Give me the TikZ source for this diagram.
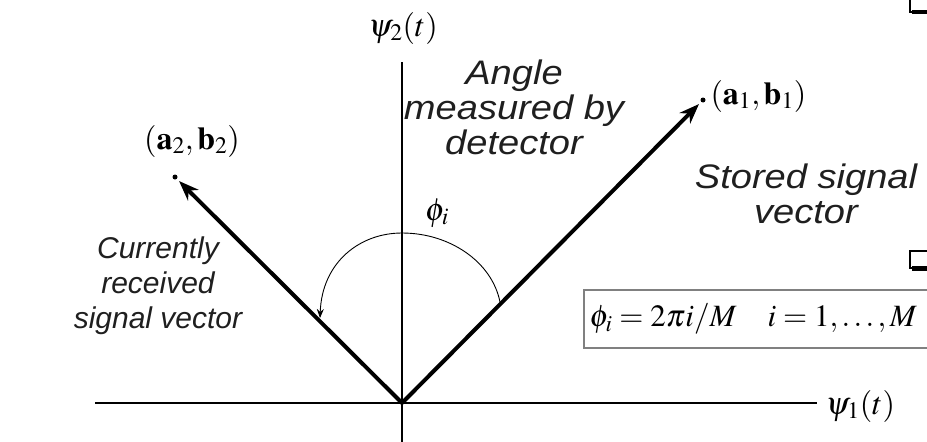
\documentclass[tikz,border=0pt]{standalone}
\usepackage{mathptmx}
\usepackage[no-math]{fontspec}
\newfontfamily\labelfont{Liberation Sans}
\newfontfamily\widefont{Liberation Sans}[FakeStretch=1.12]
\usetikzlibrary{arrows.meta}

\tikzset{
	note/.style={font=\widefont\itshape\fontsize{34}{35}\selectfont, align=center, text=black!88},
	leftnote/.style={font=\labelfont\itshape\fontsize{30}{35}\selectfont, align=center, text=black!88},
	mlabel/.style={font=\fontsize{32}{34}\selectfont},
	sig/.style={line width=4pt, -{Stealth[length=20pt,width=15pt]}, shorten >=3pt},
	axis/.style={line width=1.3pt},
	dot/.style={circle, fill, inner sep=0pt, minimum size=5pt},
}

\begin{document}
\begin{tikzpicture}[x=1pt, y=-1pt]
	\useasboundingbox (0,0) rectangle (927,442);
	\coordinate (o) at (402,403);
	% axes
	\coordinate (xl) at (95,403);
	\coordinate (xr) at (817,403);
	\coordinate (yb) at (402,442);
	\coordinate (yt) at (402,62);
	\draw[axis] (xl) -- (xr);
	\draw[axis] (yb) -- (yt);
	\node[mlabel, anchor=west] (psi1) at (822,406) {$\psi_1(t)$};
	\node[mlabel] (psi2) at (403,28) {$\psi_2(t)$};
	% signal points and vectors
	\node[dot] (s1) at (703,100) {};
	\node[dot] (s2) at (175,177) {};
	\draw[sig] (o) -- (s1);
	\draw[sig] (o) -- (s2);
	\node[mlabel, anchor=west] (s1lab) at (707,96) {$(\mathbf{a}_1,\mathbf{b}_1)$};
	\node[mlabel] (s2lab) at (192,141) {$(\mathbf{a}_2,\mathbf{b}_2)$};
	% angle
	\draw[line width=0.9pt, -{Stealth[length=9pt,width=7pt]}] (500,302) .. controls (492,262) and (450,233) .. (402,233) .. controls (360,233) and (322,262) .. (320,318);
	\node[mlabel] (phi) at (437,213) {$\phi_i$};
	% texts
	\node[note] (angle) at (514,107) {Angle\\measured by\\detector};
	\node[note] (stored) at (806,194) {Stored signal\\vector};
	\node[leftnote] (recv) at (158,286) {Currently\\received\\signal vector};
	% formula
	\draw[gray, line width=2pt] (584,290) rectangle (960,348);
	\node[font=\fontsize{31}{34}\selectfont, anchor=west] (eq) at (586,319) {$\phi_i = 2\pi i/M \quad i = 1,\ldots,M$};
	% slide bullets
	\draw[line width=1.5pt] (910,-5) -- (910,12) -- (935,12);
	\fill (912,10) rectangle (935,14);
	\draw[line width=1.5pt] (935,251) -- (910,251) -- (910,268) -- (935,268);
	\fill (912,266) rectangle (935,271);
\end{tikzpicture}
\end{document}
